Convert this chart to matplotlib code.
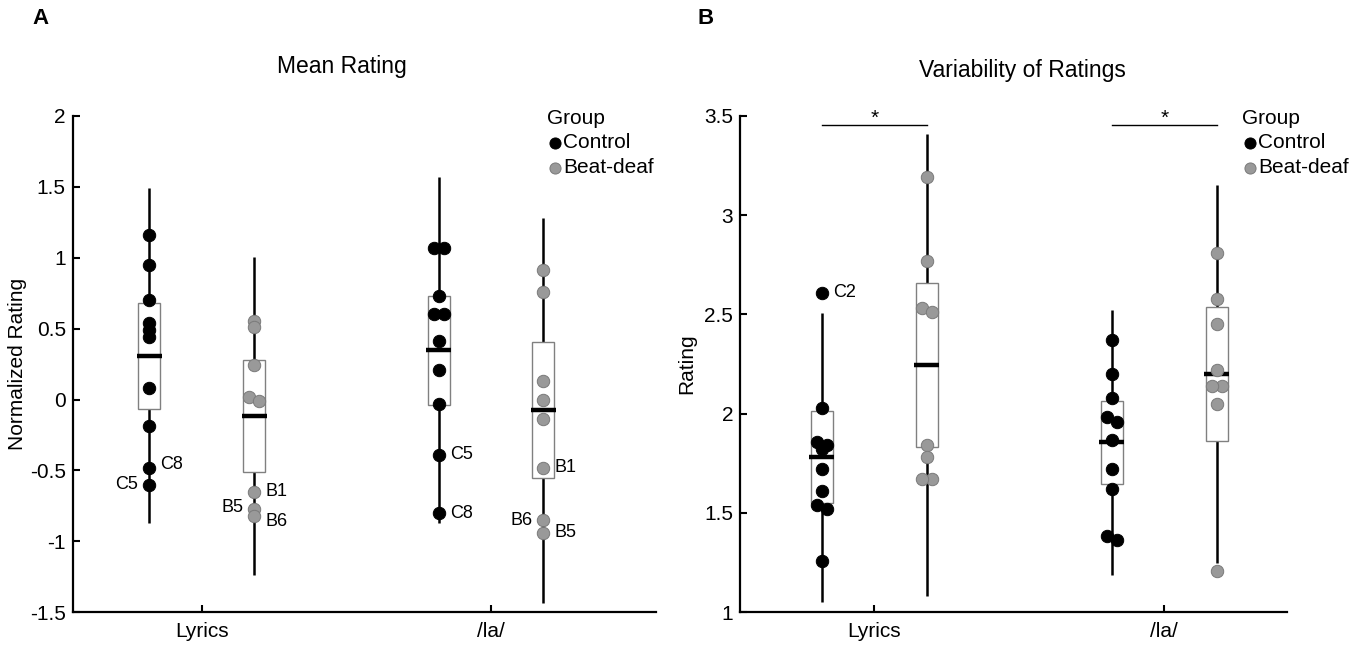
import numpy as np
import matplotlib.pyplot as plt
from matplotlib.patches import Rectangle
from matplotlib.lines import Line2D

plt.rcParams['font.family'] = ['Liberation Sans', 'DejaVu Sans']
plt.rcParams['axes.unicode_minus'] = False

conditions = ['Lyrics', '/la/']
groups = ['Control', 'Beat-deaf']

# A: normalized mean rating per participant
mean_ctrl_lyrics = [1.16, 0.95, 0.70, 0.54, 0.49, 0.44, 0.08, -0.19, -0.48, -0.60]
mean_bd_lyrics = [0.55, 0.51, 0.24, 0.015, -0.01, -0.65, -0.77, -0.82]
mean_ctrl_la = [1.07, 1.07, 0.73, 0.60, 0.60, 0.41, 0.21, -0.03, -0.39, -0.80]
mean_bd_la = [0.91, 0.76, 0.13, 0.00, -0.14, -0.48, -0.85, -0.94]

# B: variability (SD) of ratings per participant
var_ctrl_lyrics = [2.61, 2.03, 1.86, 1.84, 1.82, 1.72, 1.61, 1.54, 1.52, 1.26]
var_bd_lyrics = [3.19, 2.77, 2.53, 2.51, 1.84, 1.78, 1.67, 1.67]
var_ctrl_la = [2.37, 2.20, 2.08, 1.985, 1.96, 1.87, 1.72, 1.62, 1.385, 1.365]
var_bd_la = [2.81, 2.58, 2.45, 2.22, 2.14, 2.14, 2.05, 1.21]

yticks_a = [-1.5, -1, -0.5, 0, 0.5, 1, 1.5, 2]
yticks_b = [1, 1.5, 2, 2.5, 3, 3.5]

CTRL = ('black', 'black')
BD = ('#999999', '#7a7a7a')
W, H = 1372, 649


def fx(px):
    return px / W


def fy(py):
    return 1 - py / H


def dodge(vals, thr, d):
    # push near-identical values side by side
    offs = np.zeros(len(vals))
    order = np.argsort(vals, kind='stable')[::-1]
    clusters = [[order[0]]]
    for prev, cur in zip(order[:-1], order[1:]):
        if vals[prev] - vals[cur] < thr:
            clusters[-1].append(cur)
        else:
            clusters.append([cur])
    pattern = [-1, 1, 0]
    for c in clusters:
        if len(c) > 1:
            for k, idx in enumerate(sorted(c, key=lambda i: -vals[i])):
                offs[idx] = pattern[k % 3] * d
    return offs


def draw_group(ax, xc, vals, colors, hw=0.038, d=0.0175, thr=0.035):
    v = np.asarray(vals, dtype=float)
    m = v.mean()
    sd = v.std(ddof=1)
    se = sd / np.sqrt(len(v))
    # mean +/- 2 SD line, mean +/- 2 SE box, mean bar
    ax.plot([xc, xc], [m - 2 * sd, m + 2 * sd], color='black', lw=1.8,
            solid_capstyle='butt', zorder=1, clip_on=False)
    ax.add_patch(Rectangle((xc - hw, m - 2 * se), 2 * hw, 4 * se,
                           facecolor='white', edgecolor='#808080', lw=1.0, zorder=2))
    ax.plot([xc - hw - 0.005, xc + hw + 0.005], [m, m], color='black', lw=3.2,
            solid_capstyle='butt', zorder=3)
    xs = xc + dodge(v, thr, d)
    ax.scatter(xs, v, s=80, c=colors[0], edgecolors=colors[1], linewidths=0.7,
               zorder=4, clip_on=False)
    return xs, v


def tag(ax, xs, v, i, text, side='right', dy=0):
    off = 8 if side == 'right' else -8
    ax.annotate(text, (xs[i], v[i]), xytext=(off, dy), textcoords='offset points',
                ha='left' if side == 'right' else 'right', va='center', fontsize=13)


def style_axes(ax, xlim, ylim, yticks):
    ax.set_xlim(*xlim)
    ax.set_ylim(*ylim)
    ax.set_xticks([1, 2])
    ax.set_xticklabels(conditions)
    ax.set_yticks(yticks)
    ax.set_yticklabels([f'{t:g}' for t in yticks])
    for s in ['top', 'right']:
        ax.spines[s].set_visible(False)
    for s in ['left', 'bottom']:
        ax.spines[s].set_linewidth(1.6)
    ax.tick_params(direction='in', length=5, width=1.5, labelsize=15)
    ax.tick_params(axis='y', pad=5)
    ax.tick_params(axis='x', pad=7)


def legend(x, y):
    fig.text(fx(x), fy(y), 'Group', fontsize=15, ha='left', va='center')
    for k, (name, col) in enumerate([('Control', CTRL), ('Beat-deaf', BD)]):
        yy = y + 25 + 24.5 * k
        fig.add_artist(Line2D([fx(x + 8)], [fy(yy)], marker='o', ls='none', ms=8,
                              markerfacecolor=col[0], markeredgecolor=col[1], mew=0.7))
        fig.text(fx(x + 16), fy(yy), name, fontsize=15, ha='left', va='center')


fig = plt.figure(figsize=(W / 100, H / 100), dpi=100)
off = 0.181

# ---- A: mean rating ----
axA = fig.add_axes([fx(72.7), fy(612.3), fx(656 - 72.7), (612.3 - 115.8) / H])
xs, v = draw_group(axA, 1 - off, mean_ctrl_lyrics, CTRL)
tag(axA, xs, v, 9, 'C5', 'left')
tag(axA, xs, v, 8, 'C8', 'right', 2)
xs, v = draw_group(axA, 1 + off, mean_bd_lyrics, BD)
tag(axA, xs, v, 5, 'B1', 'right')
tag(axA, xs, v, 6, 'B5', 'left', 1)
tag(axA, xs, v, 7, 'B6', 'right', -4)
xs, v = draw_group(axA, 2 - off, mean_ctrl_la, CTRL)
tag(axA, xs, v, 8, 'C5', 'right')
tag(axA, xs, v, 9, 'C8', 'right')
xs, v = draw_group(axA, 2 + off, mean_bd_la, BD)
tag(axA, xs, v, 5, 'B1', 'right', 0)
tag(axA, xs, v, 6, 'B6', 'left')
tag(axA, xs, v, 7, 'B5', 'right')
style_axes(axA, (0.554, 2.570), (-1.5, 2), yticks_a)

# ---- B: variability of ratings ----
axB = fig.add_axes([fx(740), fy(612.3), fx(1287.3 - 740), (612.3 - 115.8) / H])
xs, v = draw_group(axB, 1 - off, var_ctrl_lyrics, CTRL, thr=0.035)
tag(axB, xs, v, 0, 'C2', 'right')
draw_group(axB, 1 + off, var_bd_lyrics, BD)
draw_group(axB, 2 - off, var_ctrl_la, CTRL)
draw_group(axB, 2 + off, var_bd_la, BD)
style_axes(axB, (0.537, 2.424), (1, 3.5), yticks_b)

# significance brackets
for c in [1, 2]:
    axB.plot([c - off, c + off], [3.452, 3.452], color='black', lw=1.0, clip_on=False)
    axB.text(c, 3.458, '*', ha='center', va='baseline', fontsize=15)

# titles, panel letters, axis labels
fig.text(fx(342), fy(67), 'Mean Rating', fontsize=16.5, ha='center', va='center')
fig.text(fx(1022), fy(70), 'Variability of Ratings', fontsize=16.5, ha='center', va='center')
fig.text(fx(32), fy(18), 'A', fontsize=16, fontweight='bold', ha='left', va='center')
fig.text(fx(697), fy(18), 'B', fontsize=16, fontweight='bold', ha='left', va='center')
fig.text(fx(18), fy(364), 'Normalized Rating', fontsize=15, rotation=90, ha='center', va='center')
fig.text(fx(687), fy(364), 'Rating', fontsize=15, rotation=90, ha='center', va='center')

legend(547, 118)
legend(1242, 118)

fig.savefig('out.png', dpi=100)
